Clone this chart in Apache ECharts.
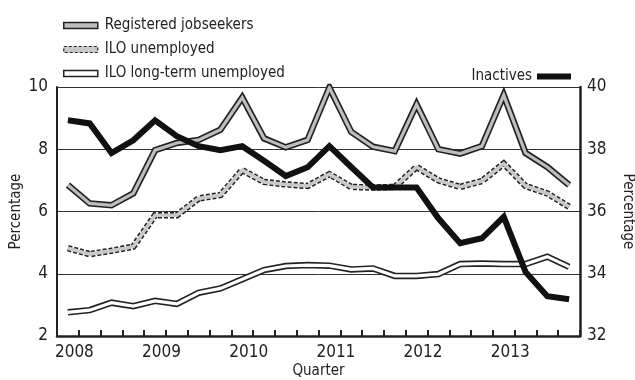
<!DOCTYPE html>
<html>
<head>
<meta charset="utf-8">
<script src="https://cdn.jsdelivr.net/npm/echarts@6/dist/echarts.min.js"></script>
<style>
  html, body { margin: 0; padding: 0; background: #fff; }
  #chart { width: 635px; height: 380px; }
</style>
</head>
<body>
<div id="chart"></div>
<script>
// Quarterly series, 2008 Q1 – 2013 Q4
const quarters = [
  '2008 Q1','2008 Q2','2008 Q3','2008 Q4',
  '2009 Q1','2009 Q2','2009 Q3','2009 Q4',
  '2010 Q1','2010 Q2','2010 Q3','2010 Q4',
  '2011 Q1','2011 Q2','2011 Q3','2011 Q4',
  '2012 Q1','2012 Q2','2012 Q3','2012 Q4',
  '2013 Q1','2013 Q2','2013 Q3','2013 Q4'
];

// Left axis, percentage
const registeredJobseekers = [6.85, 6.26, 6.2, 6.58, 7.97, 8.2, 8.3, 8.63, 9.66, 8.35, 8.06, 8.3,
                              9.98, 8.56, 8.08, 7.94, 9.44, 8.0, 7.86, 8.1, 9.74, 7.88, 7.43, 6.85];
const iloUnemployed = [4.82, 4.63, 4.74, 4.87, 5.88, 5.88, 6.42, 6.53, 7.33, 6.95, 6.87, 6.82,
                       7.2, 6.79, 6.77, 6.79, 7.43, 7.0, 6.79, 6.98, 7.54, 6.82, 6.58, 6.15];
const iloLongTerm = [2.76, 2.83, 3.07, 2.96, 3.13, 3.03, 3.39, 3.53, 3.82, 4.12, 4.25, 4.28,
                     4.26, 4.14, 4.17, 3.93, 3.93, 3.99, 4.31, 4.33, 4.31, 4.31, 4.55, 4.22];

// Right axis, percentage
const inactives = [38.93, 38.83, 37.88, 38.29, 38.93, 38.42, 38.1, 37.97, 38.1, 37.63, 37.14, 37.42,
                   38.1, 37.43, 36.77, 36.77, 36.77, 35.78, 34.98, 35.14, 35.83, 34.06, 33.28, 33.18];

const leftTicks = { min: 2, max: 10, step: 2 };
const rightTicks = { min: 32, max: 40, step: 2 };

const FONT = '"Liberation Sans Narrow", "DejaVu Sans Condensed", "Roboto Condensed", "Liberation Sans", sans-serif';
const INK = '#222';

function outline(name, data, opts) {
  return Object.assign({
    name: name,
    type: 'line',
    data: data,
    symbol: 'none',
    silent: true,
    animation: false,
    lineStyle: { color: INK, width: 6.5, join: 'miter', cap: 'butt' }
  }, opts || {});
}

const chart = echarts.init(document.getElementById('chart'), null, { renderer: 'canvas' });

chart.setOption({
  animation: false,
  textStyle: { fontFamily: FONT, color: INK },
  grid: { left: 57, right: 55, top: 87, bottom: 44, containLabel: false, outerBoundsMode: 'none' },
  legend: [
    {
      orient: 'vertical',
      left: 58,
      top: 13,
      itemGap: 9,
      itemWidth: 34,
      itemHeight: 6,
      icon: 'rect',
      textStyle: { fontFamily: FONT, fontSize: 15, color: INK, padding: [0, 0, 0, 2] },
      selectedMode: false,
      data: [
        { name: 'Registered jobseekers', itemStyle: { color: '#bdbdbd', borderColor: INK, borderWidth: 1.5 } },
        { name: 'ILO unemployed', itemStyle: { color: '#c8c8c8', borderColor: INK, borderWidth: 1.2, borderType: [3, 2] } },
        { name: 'ILO long-term unemployed', itemStyle: { color: '#fff', borderColor: INK, borderWidth: 1.5 } }
      ]
    },
    {
      right: 59,
      top: 64,
      align: 'right',
      itemWidth: 34,
      itemHeight: 6,
      icon: 'rect',
      textStyle: { fontFamily: FONT, fontSize: 15, color: INK },
      selectedMode: false,
      data: [{ name: 'Inactives', itemStyle: { color: '#111', borderWidth: 0 } }]
    }
  ],
  xAxis: {
    type: 'category',
    data: quarters,
    boundaryGap: true,
    name: 'Quarter',
    nameLocation: 'middle',
    nameGap: 28,
    nameMoveOverlap: false,
    nameTextStyle: { fontFamily: FONT, fontSize: 15, color: INK },
    axisLine: { lineStyle: { color: INK, width: 2.5 } },
    axisTick: { show: true, inside: true, length: 6, interval: 0, lineStyle: { color: INK, width: 2 } },
    axisLabel: {
      interval: 0,
      margin: 8,
      fontFamily: FONT,
      fontSize: 17,
      color: INK,
      padding: [0, 0, 0, 13],
      formatter: function (v) { return v.endsWith('Q1') ? v.slice(0, 4) : ''; }
    },
    splitLine: { show: false }
  },
  yAxis: [
    {
      type: 'value',
      min: leftTicks.min,
      max: leftTicks.max,
      interval: leftTicks.step,
      name: 'Percentage',
      nameLocation: 'middle',
      nameGap: 33,
      nameMoveOverlap: false,
      nameRotate: 90,
      nameTextStyle: { fontFamily: FONT, fontSize: 15, color: INK },
      axisLine: { show: true, lineStyle: { color: INK, width: 2 } },
      axisTick: { show: false },
      axisLabel: { fontFamily: FONT, fontSize: 17, color: INK, margin: 9 },
      splitLine: { show: true, lineStyle: { color: '#333', width: 1 } }
    },
    {
      type: 'value',
      position: 'right',
      min: rightTicks.min,
      max: rightTicks.max,
      interval: rightTicks.step,
      name: 'Percentage',
      nameLocation: 'middle',
      nameGap: 40,
      nameMoveOverlap: false,
      nameRotate: -90,
      nameTextStyle: { fontFamily: FONT, fontSize: 15, color: INK },
      axisLine: { show: true, lineStyle: { color: INK, width: 2.5 } },
      axisTick: { show: false },
      axisLabel: { fontFamily: FONT, fontSize: 17, color: INK, margin: 7 },
      splitLine: { show: false }
    }
  ],
  series: [
    // Long-term unemployed: dark outline, white core
    outline('lt-outline', iloLongTerm, { z: 2 }),
    {
      name: 'ILO long-term unemployed', type: 'line', data: iloLongTerm, symbol: 'none', z: 3,
      itemStyle: { color: '#fff' },
      lineStyle: { color: '#fff', width: 3.2, join: 'miter' }
    },
    // ILO unemployed: dashed outline, grey core
    outline('ilo-outline', iloUnemployed, {
      z: 2,
      lineStyle: { color: INK, width: 6.5, type: [4, 2], join: 'miter' }
    }),
    {
      name: 'ILO unemployed', type: 'line', data: iloUnemployed, symbol: 'none', z: 3,
      itemStyle: { color: '#c8c8c8' },
      lineStyle: { color: '#c8c8c8', width: 3.6, join: 'miter' }
    },
    // Registered jobseekers: solid outline, grey core
    outline('reg-outline', registeredJobseekers, { z: 2 }),
    {
      name: 'Registered jobseekers', type: 'line', data: registeredJobseekers, symbol: 'none', z: 3,
      itemStyle: { color: '#bdbdbd' },
      lineStyle: { color: '#bdbdbd', width: 3.2, join: 'miter' }
    },
    // Inactives on the right-hand scale
    {
      name: 'Inactives', type: 'line', yAxisIndex: 1, data: inactives, symbol: 'none', z: 5,
      itemStyle: { color: '#111' },
      lineStyle: { color: '#111', width: 6, join: 'miter' }
    }
  ]
});
</script>
</body>
</html>
